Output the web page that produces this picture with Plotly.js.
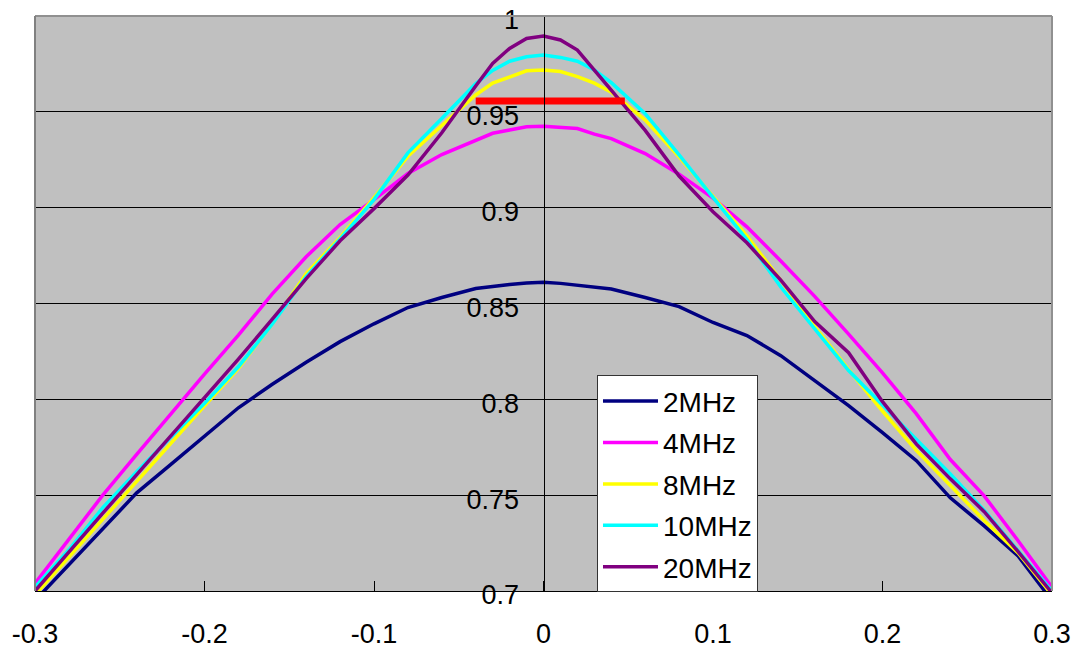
<!DOCTYPE html>
<html>
<head>
<meta charset="utf-8">
<script src="https://cdn.plot.ly/plotly-3.0.1.min.js"></script>
<style>
  html, body { margin: 0; padding: 0; background: #ffffff; }
  #chart { width: 1074px; height: 648px; }
</style>
</head>
<body>
<div id="chart"></div>
<script>
// ---- data ----
const xVals = [-0.3, -0.28, -0.26, -0.24, -0.22, -0.2, -0.18, -0.16, -0.14, -0.12, -0.1, -0.08, -0.06, -0.04,
  -0.03, -0.02, -0.01, 0, 0.01, 0.02, 0.03,
  0.04, 0.06, 0.08, 0.1, 0.12, 0.14, 0.16, 0.18, 0.2, 0.22, 0.24, 0.26, 0.28, 0.3];

const mhz2 = [0.695, 0.7138, 0.7327, 0.7512, 0.7659, 0.7806, 0.7956, 0.8079, 0.8193, 0.8301, 0.8394, 0.8479, 0.8531, 0.8578,
  0.8590, 0.8599, 0.8607, 0.8611, 0.8605, 0.8594, 0.8583,
  0.8576, 0.8531, 0.8484, 0.8401, 0.8333, 0.8228, 0.8098, 0.7967, 0.7826, 0.768, 0.7486, 0.734, 0.7183, 0.695];

const mhz4 = [0.704, 0.727, 0.75, 0.7713, 0.7925, 0.8132, 0.8335, 0.855, 0.8744, 0.8912, 0.9042, 0.9178, 0.9277, 0.935,
  0.9388, 0.9405, 0.9422, 0.9425, 0.942, 0.9413, 0.9384,
  0.936, 0.9282, 0.9175, 0.905, 0.89, 0.8722, 0.8537, 0.834, 0.8138, 0.7924, 0.7686, 0.7496, 0.7262, 0.702];

const mhz8 = [0.698, 0.7178, 0.7378, 0.7576, 0.7771, 0.7966, 0.8162, 0.8395, 0.8656, 0.8845, 0.9052, 0.9268, 0.9429, 0.9588,
  0.965, 0.968, 0.9714, 0.9718, 0.971, 0.9684, 0.965,
  0.9603, 0.9457, 0.9265, 0.9059, 0.8853, 0.8621, 0.838, 0.8155, 0.7938, 0.7733, 0.7553, 0.7368, 0.7199, 0.698];

const mhz10 = [0.702, 0.7215, 0.7435, 0.7622, 0.7801, 0.7979, 0.817, 0.8393, 0.864, 0.8837, 0.9042, 0.9286, 0.9465, 0.9647,
  0.9716, 0.9764, 0.9787, 0.9796, 0.9784, 0.9764, 0.9718,
  0.9652, 0.949, 0.9276, 0.9054, 0.8834, 0.8586, 0.837, 0.815, 0.797, 0.779, 0.761, 0.742, 0.7211, 0.700];

const mhz20 = [0.700, 0.72, 0.7406, 0.7607, 0.7806, 0.8005, 0.821, 0.8418, 0.863, 0.8827, 0.8995, 0.917, 0.9391, 0.9635,
  0.9753, 0.9831, 0.9883, 0.9895, 0.9875, 0.9822, 0.9718,
  0.9615, 0.9403, 0.9165, 0.8979, 0.8817, 0.8622, 0.8406, 0.8243, 0.7988, 0.7766, 0.7585, 0.7414, 0.7205, 0.699];

const seriesNames = ["2MHz", "4MHz", "8MHz", "10MHz", "20MHz"];
const markerX = [-0.04, 0.048];
const markerY = [0.9557, 0.9557];

const xTickVals = [-0.3, -0.2, -0.1, 0, 0.1, 0.2, 0.3];
const xTickText = ["-0.3", "-0.2", "-0.1", "0", "0.1", "0.2", "0.3"];
const yTickVals = [0.7, 0.75, 0.8, 0.85, 0.9, 0.95, 1];
const yTickText = ["0.7", "0.75", "0.8", "0.85", "0.9", "0.95", "1"];

// ---- styling ----
const colors = ["#000080", "#FF00FF", "#FFFF00", "#00FFFF", "#800080"];
const allSeries = [mhz2, mhz4, mhz8, mhz10, mhz20];
const FONT = "Liberation Sans, Arial, sans-serif";

const traces = allSeries.map((ys, i) => ({
  type: "scatter",
  mode: "lines",
  x: xVals,
  y: ys,
  name: seriesNames[i],
  legendgroup: "g" + i,
  line: { color: colors[i], width: 3.5 },
  hoverinfo: "skip"
}));

traces.push({
  type: "scatter",
  mode: "lines",
  x: markerX,
  y: markerY,
  showlegend: false,
  line: { color: "#FF0000", width: 7 },
  hoverinfo: "skip"
});

const layout = {
  width: 1074,
  height: 648,
  margin: { l: 35, r: 22, t: 16, b: 57 },
  paper_bgcolor: "#ffffff",
  plot_bgcolor: "#C0C0C0",
  font: { family: FONT, size: 27, color: "#000000" },
  showlegend: true,
  legend: {
    x: 0.5526, y: 0.375, xanchor: "left", yanchor: "top",
    bgcolor: "#ffffff", bordercolor: "#333333", borderwidth: 1,
    font: { family: FONT, size: 28, color: "#000000" },
    traceorder: "grouped", tracegroupgap: 2,
    itemwidth: 55
  },
  xaxis: {
    range: [-0.3, 0.3],
    domain: [0, 1],
    tickvals: xTickVals,
    ticktext: xTickText,
    ticks: "inside", ticklen: 10, tickwidth: 1, tickcolor: "#000000",
    showline: true, linecolor: "#000000", linewidth: 1,
    showgrid: false, zeroline: false,
    ticklabelstandoff: 19,
    tickfont: { family: FONT, size: 27, color: "#000000" }
  },
  yaxis: {
    range: [0.7, 1],
    anchor: "free", position: 0.5, side: "left",
    tickvals: yTickVals,
    ticktext: yTickText,
    ticks: "inside", ticklen: 10, tickwidth: 1, tickcolor: "#000000",
    showline: true, linecolor: "#000000", linewidth: 1,
    showgrid: true, gridcolor: "#000000", gridwidth: 1,
    zeroline: false,
    ticklabelstandoff: 19,
    ticklabelshift: 4,
    tickfont: { family: FONT, size: 27, color: "#000000" }
  },
  shapes: [
    { type: "line", xref: "paper", yref: "paper", x0: 0, x1: 1, y0: 1, y1: 1, line: { color: "#909090", width: 2 }, layer: "above" },
    { type: "line", xref: "paper", yref: "paper", x0: 0, x1: 0, y0: 0, y1: 1, line: { color: "#808080", width: 2 }, layer: "above" },
    { type: "line", xref: "paper", yref: "paper", x0: 1, x1: 1, y0: 0, y1: 1, line: { color: "#909090", width: 2 }, layer: "above" }
  ]
};

Plotly.newPlot("chart", traces, layout, { staticPlot: true, displayModeBar: false });
</script>
</body>
</html>
